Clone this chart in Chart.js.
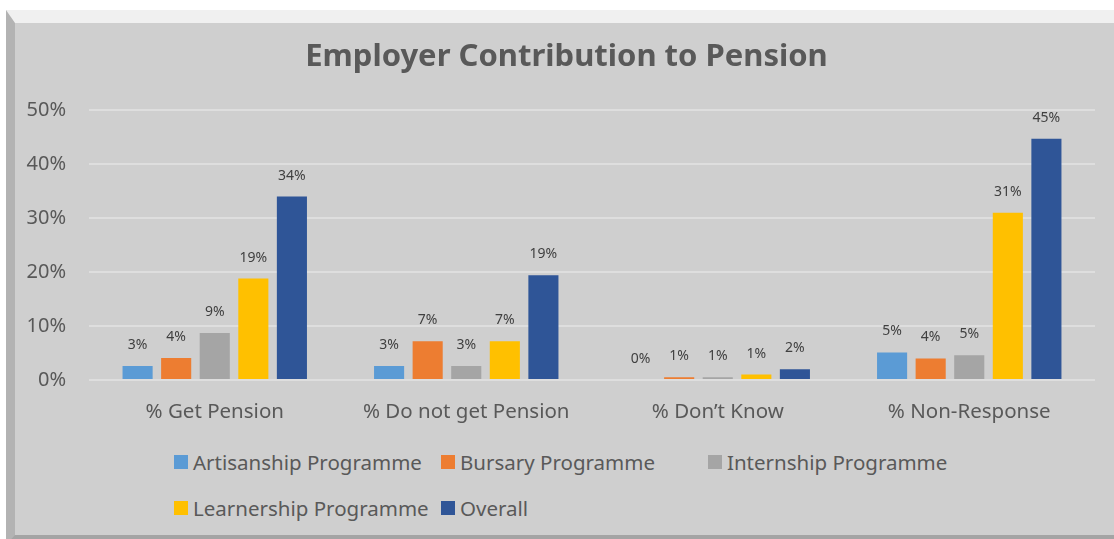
<!DOCTYPE html>
<html>
<head>
<meta charset="utf-8">
<script src="https://cdn.jsdelivr.net/npm/chart.js@4.4.1/dist/chart.umd.min.js"></script>
<style>
  html, body { margin: 0; padding: 0; background: #fff; overflow: hidden; }
  body { width: 1114px; height: 539px; position: relative; font-family: "Noto Sans", sans-serif; }
  .frame {
    position: absolute; left: 6px; top: 10px; width: 1114px; height: 535px;
    box-sizing: border-box; background: #cfcfcf;
    border-style: solid; border-width: 13px 6px 10px 9px;
    border-color: #f0f0f0 #b9b9b9 #a4a4a4 #b3b3b3;
  }
  #chart { position: absolute; left: 0; top: 0; }
  .legend { position: absolute; left: 174px; top: 448px; width: 820px; }
  .legend .item { position: absolute; display: flex; align-items: center; color: #595959; font-size: 20.5px; white-space: nowrap; }
  .legend .box { width: 14px; height: 14px; margin-right: 5px; }
</style>
</head>
<body>
<div class="frame"></div>
<canvas id="chart" width="1114" height="440"></canvas>
<div class="legend" id="legend"></div>
<script>
const categories = ['% Get Pension', '% Do not get Pension', '% Don\u2019t Know', '% Non-Response'];
const seriesNames = ['Artisanship Programme', 'Bursary Programme', 'Internship Programme', 'Learnership Programme', 'Overall'];
const seriesColors = ['#5b9bd5', '#ed7d31', '#a5a5a5', '#ffc000', '#2f5597'];

const artisanship = [2.6, 2.6, 0, 5.1];
const bursary = [4.1, 7.2, 0.5, 4.0];
const internship = [8.7, 2.6, 0.5, 4.6];
const learnership = [18.8, 7.2, 1.0, 31.0];
const overall = [34.0, 19.4, 2.0, 44.7];

const yTicks = [0, 10, 20, 30, 40, 50];

const seriesValues = [artisanship, bursary, internship, learnership, overall];

// value labels above each bar
const barLabels = {
  id: 'barLabels',
  afterDatasetsDraw(chart) {
    const ctx = chart.ctx;
    ctx.save();
    ctx.font = '14px "Noto Sans"';
    ctx.fillStyle = '#404040';
    ctx.textAlign = 'center';
    ctx.textBaseline = 'middle';
    chart.data.datasets.forEach((ds, i) => {
      chart.getDatasetMeta(i).data.forEach((bar, j) => {
        ctx.fillText(Math.round(ds.data[j]) + '%', bar.x, bar.y - 21);
      });
    });
    ctx.restore();
  }
};

// title sits centred between x=38 and the right edge of the plot
const titleOffset = {
  id: 'titleOffset',
  afterLayout(chart) {
    if (chart.titleBlock) chart.titleBlock.left = 38;
  }
};

const chart = new Chart(document.getElementById('chart'), {
  type: 'bar',
  data: {
    labels: categories,
    datasets: seriesNames.map((name, i) => ({
      label: name,
      data: seriesValues[i],
      backgroundColor: seriesColors[i],
      categoryPercentage: 0.767,
      barPercentage: 0.78
    }))
  },
  options: {
    responsive: false,
    animation: false,
    layout: { padding: { left: 0, right: 19, top: 22, bottom: 0 } },
    plugins: {
      legend: { display: false },
      tooltip: { enabled: false },
      title: {
        display: true,
        text: 'Employer Contribution to Pension',
        color: '#595959',
        font: { family: 'Noto Sans', size: 31, weight: 'bold' },
        padding: { top: 17, bottom: 34 }
      }
    },
    scales: {
      x: {
        grid: { display: false },
        border: { display: false },
        ticks: { color: '#595959', font: { family: 'Noto Sans', size: 20.5 }, padding: 12 },
        afterFit(scale) { scale.height = 60; }
      },
      y: {
        min: 0,
        max: 50,
        afterBuildTicks(scale) { scale.ticks = yTicks.map(v => ({ value: v })); },
        grid: { color: '#dedede', lineWidth: 2, drawTicks: false },
        border: { display: false },
        ticks: {
          color: '#595959',
          font: { family: 'Noto Sans', size: 20 },
          padding: 23,
          callback: v => v + '%'
        },
        afterFit(scale) { scale.width = 89; }
      }
    }
  },
  plugins: [barLabels, titleOffset]
});

// legend laid out in fixed columns
const legendCols = [0, 267, 534];
const legendEl = document.getElementById('legend');
seriesNames.forEach((name, i) => {
  const item = document.createElement('div');
  item.className = 'item';
  item.style.left = legendCols[i % 3] + 'px';
  item.style.top = (i < 3 ? 0 : 46) + 'px';
  item.innerHTML = '<span class="box" style="background:' + seriesColors[i] + '"></span>' + name;
  legendEl.appendChild(item);
});
</script>
</body>
</html>
